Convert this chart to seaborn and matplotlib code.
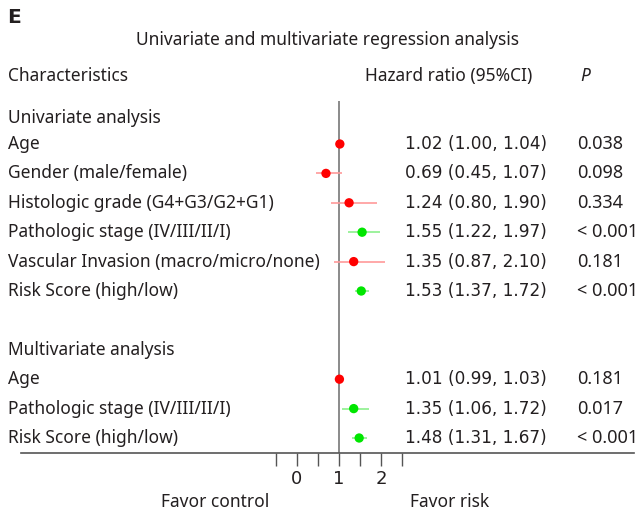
import matplotlib
matplotlib.use("Agg")
import matplotlib.pyplot as plt
import seaborn as sns
import pandas as pd
import numpy as np

sns.set_theme(style="white")
plt.rcParams['font.family'] = ['Noto Sans', 'DejaVu Sans']

# ---- data ----
labels = ["Age", "Gender (male/female)", "Histologic grade (G4+G3/G2+G1)",
          "Pathologic stage (IV/III/II/I)", "Vascular Invasion (macro/micro/none)",
          "Risk Score (high/low)",
          "Age", "Pathologic stage (IV/III/II/I)", "Risk Score (high/low)"]
rows = [1, 2, 3, 4, 5, 6, 9, 10, 11]
hr = [1.02, 0.69, 1.24, 1.55, 1.35, 1.53, 1.01, 1.35, 1.48]
lo = [1.00, 0.45, 0.80, 1.22, 0.87, 1.37, 0.99, 1.06, 1.31]
hi = [1.04, 1.07, 1.90, 1.97, 2.10, 1.72, 1.03, 1.72, 1.67]
pvals = ["0.038", "0.098", "0.334", "< 0.001", "0.181", "< 0.001", "0.181", "0.017", "< 0.001"]
group = ["red", "red", "red", "green", "red", "green", "red", "green", "green"]
tick_vals = [-0.5, 0, 0.5, 1, 1.5, 2, 2.5]
tick_labels = ["", "0", "", "1", "", "2", ""]

df = pd.DataFrame({"label": labels, "row": rows, "hr": hr, "lo": lo, "hi": hi,
                   "p": pvals, "grp": group})

W, H = 641, 517
fig = plt.figure(figsize=(W / 100, H / 100), dpi=100)

# x scale: 42 px per unit, x=1 at px 339
ppu = 42.0
x0 = 1 - 339 / ppu
x1 = 1 + (W - 339) / ppu
# y scale: row r at px 114.6 + 29.4 r
y_top = -114.6 / 29.4
y_bot = (H - 114.6) / 29.4

def px2x(p):
    return 1 + (p - 339) / ppu

ax = fig.add_axes([0, 0, 1, 1])

ci_col = {"red": "#ff9a9a", "green": "#8cf08c"}
pt_col = {"red": "#ff0000", "green": "#00e600"}

# reference line at HR = 1
ax.vlines(1, -0.45, 11.51, color="#777777", lw=1.2, zorder=1)

for _, r in df.iterrows():
    ax.hlines(r["row"], r["lo"], r["hi"], color=ci_col[r["grp"]], lw=1.2, zorder=2)

sns.scatterplot(data=df, x="hr", y="row", hue="grp", palette=pt_col, s=45,
                edgecolor="none", legend=False, ax=ax, zorder=3)
ax.set_xlim(x0, x1)
ax.set_ylim(y_bot, y_top)
ax.axis("off")

fs = 12.5
fsn = 12.2
numfam = ["DejaVu Sans"]
tc = "#231f20"
xl = px2x(8)
xh = px2x(405)
xp = px2x(577)
for _, r in df.iterrows():
    ax.text(xl, r["row"], r["label"], fontsize=fs, color=tc, va="center", ha="left")
    ax.text(xh, r["row"], f"{r['hr']:.2f} ({r['lo']:.2f}, {r['hi']:.2f})",
            fontsize=fsn, family=numfam, color=tc, va="center", ha="left")
    ax.text(xp, r["row"], r["p"], fontsize=13.0, color=tc,
            va="center", ha="left")

ax.text(xl, 0.12, "Univariate analysis", fontsize=fs, color=tc, va="center")
ax.text(xl, 8.0, "Multivariate analysis", fontsize=fs, color=tc, va="center")
ax.text(xl, -1.31, "Characteristics", fontsize=fs, color=tc, va="center")
ax.text(px2x(365), -1.31, "Hazard ratio (95%CI)", fontsize=fs, color=tc, va="center")
ax.text(px2x(580), -1.31, "P", fontsize=fs, color=tc, va="center", style="italic")
ax.text(px2x(327), -2.54, "Univariate and multivariate regression analysis",
        fontsize=fs, color=tc, va="center", ha="center")
ax.text(px2x(7), -3.29, "E", fontsize=14.5, color=tc, va="center", ha="left",
        fontweight="bold", family=["DejaVu Sans"])
ax.text(px2x(215), 13.18, "Favor control", fontsize=fs, color=tc, va="center", ha="center")
ax.text(px2x(450), 13.18, "Favor risk", fontsize=fs, color=tc, va="center", ha="center")

# axis with ticks
axb = fig.add_axes([0, (H - 453) / H, 1, 0.01])
axb.set_xlim(x0, x1)
axb.patch.set_alpha(0)
for s in ["top", "left", "right"]:
    axb.spines[s].set_visible(False)
axb.spines["bottom"].set_visible(True)
axb.spines["bottom"].set_color("#555555")
axb.spines["bottom"].set_linewidth(1.2)
axb.spines["bottom"].set_bounds(px2x(21), px2x(634))
axb.set_yticks([])
axb.set_xticks(tick_vals)
axb.set_xticklabels(tick_labels, fontsize=13, color=tc, family=numfam)
axb.tick_params(axis="x", direction="out", length=9, width=1.0, color="#555555",
                bottom=True, pad=3)

fig.savefig("out.png", dpi=100)
